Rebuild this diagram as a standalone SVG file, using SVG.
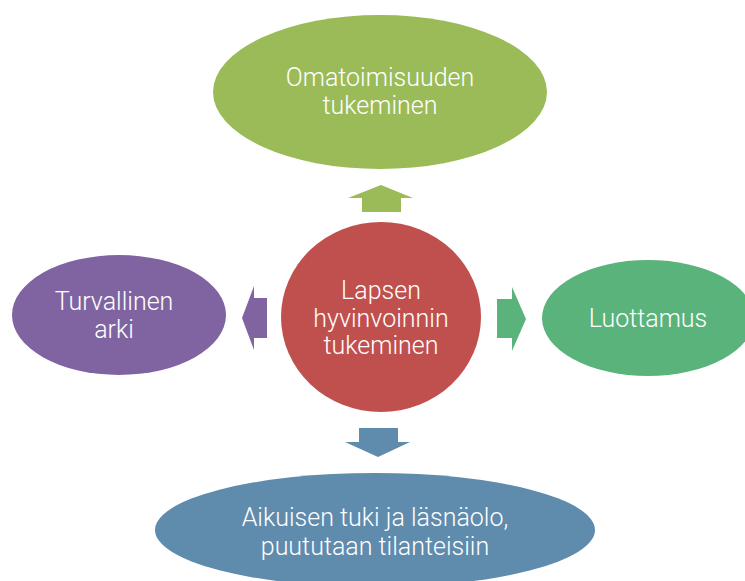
<svg xmlns="http://www.w3.org/2000/svg" width="745" height="581" viewBox="0 0 745 581">
<style>
.t{font-family:Roboto,"Liberation Sans",sans-serif;font-weight:300;font-size:25px;fill:#fff;text-anchor:middle}
</style>
<rect width="745" height="581" fill="#fff"/>
<g id="connectors">
<polygon points="381,185 413,198 401,198 401,212 362,212 362,198 348,198" fill="#9BBB59"/>
<polygon points="359,428 398,428 398,442 410,442 378,457 345,442 359,442" fill="#5F8BAD"/>
<polygon points="242,318 254,286 254,298 267,298 267,338 254,338 254,350" fill="#8064A2"/>
<polygon points="526,319 512,351 512,338 497,338 497,299 512,299 512,287" fill="#5BB37C"/>
</g>
<g id="top">
<ellipse cx="380" cy="92" rx="167" ry="77" fill="#9BBB59"/>
<text class="t" x="380" y="86">Omatoimisuuden</text>
<text class="t" x="380" y="114">tukeminen</text>
</g>
<g id="left">
<ellipse cx="119" cy="315" rx="107" ry="60" fill="#8064A2"/>
<text class="t" x="114" y="310">Turvallinen</text>
<text class="t" x="114" y="338">arki</text>
</g>
<g id="right">
<ellipse cx="648" cy="318" rx="106" ry="58" fill="#5BB37C"/>
<text class="t" x="648" y="327">Luottamus</text>
</g>
<g id="bottom">
<ellipse cx="375" cy="530" rx="220" ry="57" fill="#5F8BAD"/>
<text class="t" x="375" y="526">Aikuisen tuki ja läsnäolo,</text>
<text class="t" x="375" y="555">puututaan tilanteisiin</text>
</g>
<g id="center">
<ellipse cx="381" cy="317" rx="100" ry="95" fill="#C0504D"/>
<text class="t" x="381" y="299">Lapsen</text>
<text class="t" x="381" y="327">hyvinvoinnin</text>
<text class="t" x="381" y="354">tukeminen</text>
</g>
</svg>
